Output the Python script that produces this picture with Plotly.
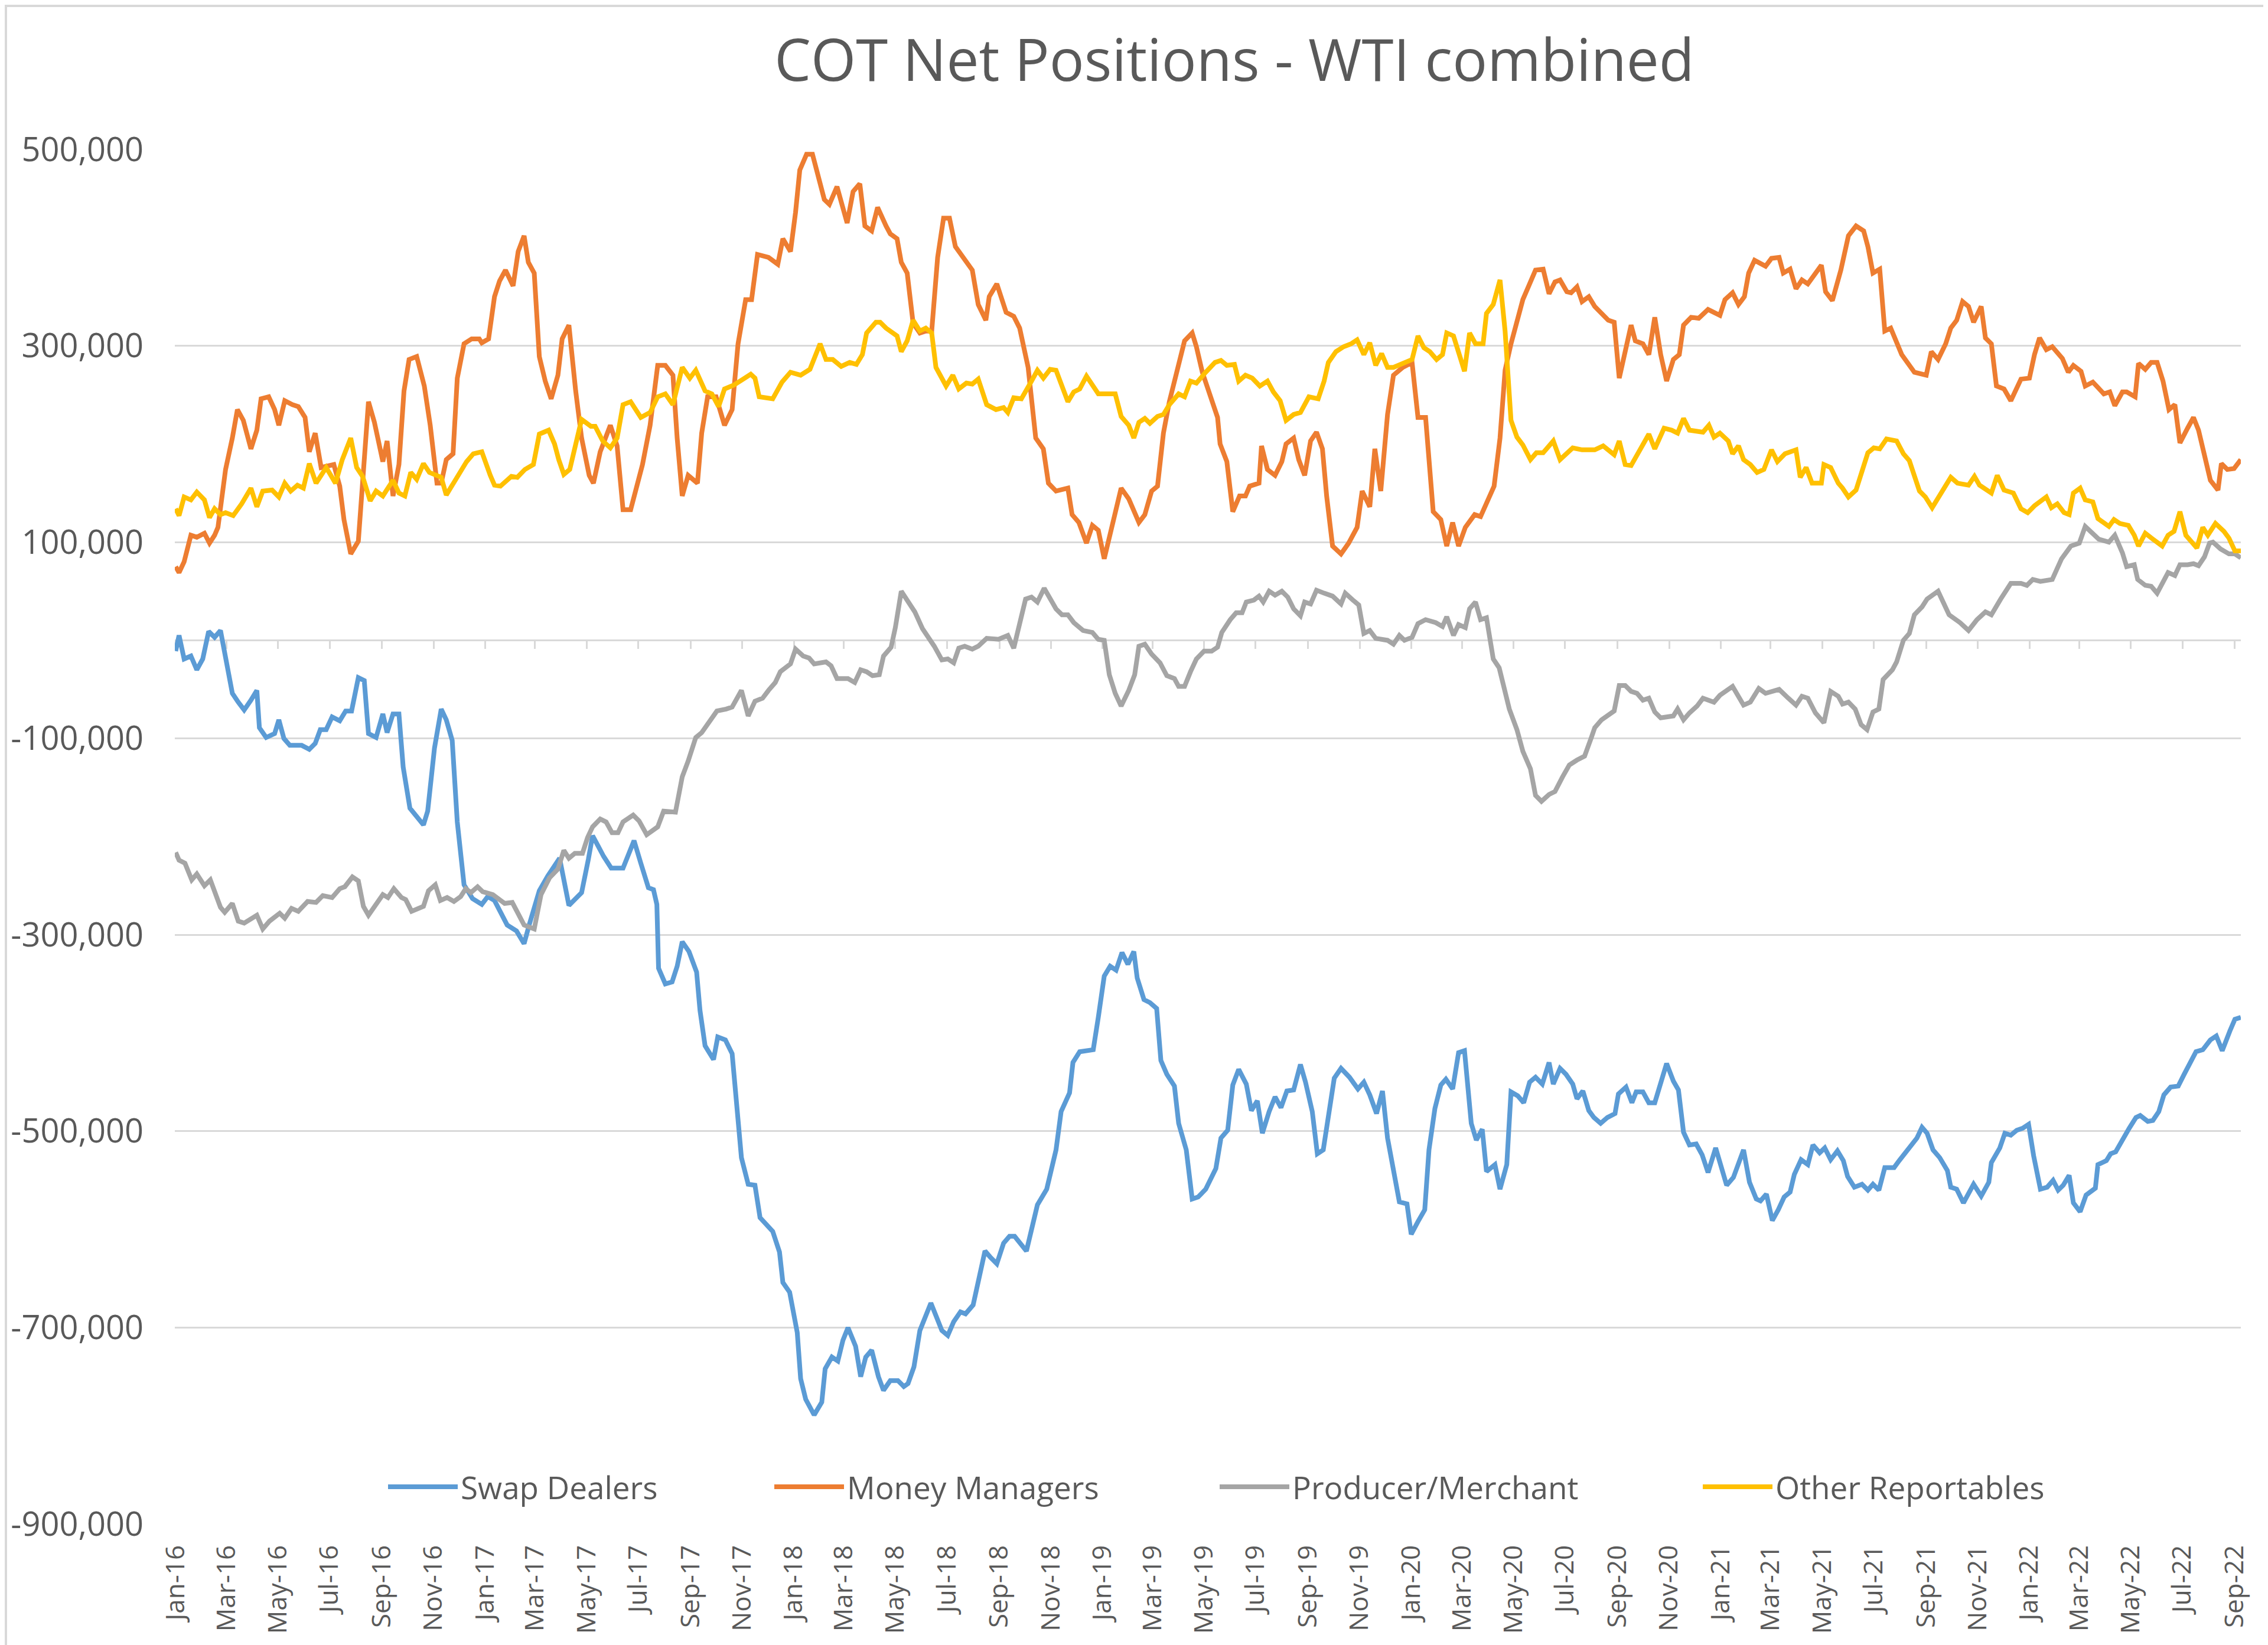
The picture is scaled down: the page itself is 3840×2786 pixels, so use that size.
import plotly.graph_objects as go

# ---- data (weekly COT net positions, contracts) ----
SWAP_DEALERS = [
    ("2016-01-01", -11000), ("2016-01-05", 5000), ("2016-01-11", -19000), ("2016-01-19", -16000),
    ("2016-01-26", -30000), ("2016-02-02", -19000), ("2016-02-09", 9000), ("2016-02-16", 3000),
    ("2016-02-23", 10000), ("2016-02-29", -19000), ("2016-03-08", -54000), ("2016-03-15", -63000),
    ("2016-03-22", -71000), ("2016-03-30", -61000), ("2016-04-06", -51000), ("2016-04-09", -89000),
    ("2016-04-17", -99000), ("2016-04-27", -95000), ("2016-05-02", -81000), ("2016-05-08", -100000),
    ("2016-05-15", -107000), ("2016-05-29", -107000), ("2016-06-07", -111000), ("2016-06-14", -105000),
    ("2016-06-20", -91000), ("2016-06-27", -91000), ("2016-07-04", -78000), ("2016-07-13", -82000),
    ("2016-07-20", -72000), ("2016-07-27", -72000), ("2016-08-04", -38000), ("2016-08-11", -41000),
    ("2016-08-16", -95000), ("2016-08-25", -99000), ("2016-09-02", -75000), ("2016-09-07", -94000),
    ("2016-09-14", -75000), ("2016-09-21", -75000), ("2016-09-26", -129000), ("2016-10-04", -171000),
    ("2016-10-12", -180000), ("2016-10-20", -188000), ("2016-10-25", -174000), ("2016-11-02", -110000),
    ("2016-11-10", -70000), ("2016-11-16", -81000), ("2016-11-23", -102000), ("2016-11-29", -185000),
    ("2016-12-07", -249000), ("2016-12-17", -263000), ("2016-12-28", -269000), ("2017-01-04", -261000),
    ("2017-01-12", -265000), ("2017-01-27", -290000), ("2017-02-07", -296000), ("2017-02-16", -309000),
    ("2017-02-22", -290000), ("2017-03-06", -255000), ("2017-03-16", -240000), ("2017-03-26", -228000),
    ("2017-03-30", -222000), ("2017-04-10", -270000), ("2017-04-25", -257000), ("2017-05-03", -223000),
    ("2017-05-08", -199000), ("2017-05-21", -220000), ("2017-05-30", -232000), ("2017-06-13", -232000),
    ("2017-06-18", -222000), ("2017-06-26", -204000), ("2017-07-04", -227000), ("2017-07-13", -252000),
    ("2017-07-19", -254000), ("2017-07-23", -269000), ("2017-07-25", -334000), ("2017-08-02", -350000),
    ("2017-08-10", -348000), ("2017-08-16", -332000), ("2017-08-22", -307000), ("2017-08-30", -317000),
    ("2017-09-08", -338000), ("2017-09-12", -377000), ("2017-09-18", -413000), ("2017-09-28", -427000),
    ("2017-10-03", -404000), ("2017-10-12", -407000), ("2017-10-20", -421000), ("2017-10-26", -473000),
    ("2017-10-31", -527000), ("2017-11-08", -554000), ("2017-11-16", -555000), ("2017-11-22", -588000),
    ("2017-11-29", -594000), ("2017-12-07", -602000), ("2017-12-15", -623000), ("2017-12-19", -654000),
    ("2017-12-27", -664000), ("2018-01-05", -705000), ("2018-01-09", -752000), ("2018-01-15", -773000),
    ("2018-01-25", -789000), ("2018-02-03", -776000), ("2018-02-07", -742000), ("2018-02-15", -730000),
    ("2018-02-22", -734000), ("2018-02-28", -713000), ("2018-03-06", -700000), ("2018-03-15", -719000),
    ("2018-03-21", -750000), ("2018-03-27", -730000), ("2018-04-03", -723000), ("2018-04-11", -750000),
    ("2018-04-17", -764000), ("2018-04-25", -754000), ("2018-05-04", -754000), ("2018-05-11", -760000),
    ("2018-05-16", -757000), ("2018-05-23", -740000), ("2018-05-30", -703000), ("2018-06-05", -691000),
    ("2018-06-12", -675000), ("2018-06-19", -690000), ("2018-06-25", -703000), ("2018-07-02", -708000),
    ("2018-07-09", -694000), ("2018-07-17", -684000), ("2018-07-23", -686000), ("2018-08-01", -677000),
    ("2018-08-08", -650000), ("2018-08-15", -622000), ("2018-08-21", -628000), ("2018-08-29", -635000),
    ("2018-09-06", -614000), ("2018-09-13", -607000), ("2018-09-19", -607000), ("2018-09-27", -615000),
    ("2018-10-03", -622000), ("2018-10-16", -575000), ("2018-10-27", -559000), ("2018-11-07", -519000),
    ("2018-11-13", -480000), ("2018-11-23", -461000), ("2018-11-27", -430000), ("2018-12-05", -419000),
    ("2018-12-21", -417000), ("2018-12-27", -384000), ("2019-01-03", -342000), ("2019-01-10", -332000),
    ("2019-01-17", -336000), ("2019-01-24", -318000), ("2019-01-31", -330000), ("2019-02-07", -317000),
    ("2019-02-11", -344000), ("2019-02-19", -366000), ("2019-02-26", -369000), ("2019-03-06", -375000),
    ("2019-03-11", -428000), ("2019-03-18", -442000), ("2019-03-27", -454000), ("2019-04-01", -492000),
    ("2019-04-10", -519000), ("2019-04-17", -569000), ("2019-04-24", -567000), ("2019-05-03", -559000),
    ("2019-05-15", -538000), ("2019-05-21", -507000), ("2019-05-29", -499000), ("2019-06-04", -453000),
    ("2019-06-11", -437000), ("2019-06-20", -452000), ("2019-06-26", -479000), ("2019-07-03", -469000),
    ("2019-07-09", -502000), ("2019-07-17", -480000), ("2019-07-24", -465000), ("2019-07-31", -476000),
    ("2019-08-07", -459000), ("2019-08-15", -458000), ("2019-08-23", -432000), ("2019-08-29", -450000),
    ("2019-09-06", -480000), ("2019-09-12", -523000), ("2019-09-19", -519000), ("2019-10-02", -446000),
    ("2019-10-10", -436000), ("2019-10-20", -445000), ("2019-10-30", -457000), ("2019-11-06", -450000),
    ("2019-11-13", -463000), ("2019-11-21", -482000), ("2019-11-28", -459000), ("2019-12-04", -507000),
    ("2019-12-13", -552000), ("2019-12-18", -572000), ("2019-12-27", -574000), ("2020-01-01", -605000),
    ("2020-01-09", -592000), ("2020-01-17", -580000), ("2020-01-22", -519000), ("2020-01-29", -477000),
    ("2020-02-05", -453000), ("2020-02-11", -447000), ("2020-02-19", -457000), ("2020-02-26", -420000),
    ("2020-03-04", -418000), ("2020-03-12", -492000), ("2020-03-18", -509000), ("2020-03-25", -498000),
    ("2020-03-30", -541000), ("2020-04-09", -534000), ("2020-04-15", -559000), ("2020-04-23", -534000),
    ("2020-04-28", -460000), ("2020-05-06", -464000), ("2020-05-13", -471000), ("2020-05-20", -450000),
    ("2020-05-27", -445000), ("2020-06-04", -452000), ("2020-06-12", -430000), ("2020-06-17", -452000),
    ("2020-06-25", -436000), ("2020-07-02", -442000), ("2020-07-10", -452000), ("2020-07-15", -467000),
    ("2020-07-22", -459000), ("2020-07-29", -479000), ("2020-08-04", -486000), ("2020-08-12", -492000),
    ("2020-08-20", -486000), ("2020-08-29", -482000), ("2020-09-02", -462000), ("2020-09-11", -455000),
    ("2020-09-18", -471000), ("2020-09-23", -460000), ("2020-10-01", -460000), ("2020-10-08", -471000),
    ("2020-10-15", -471000), ("2020-10-29", -431000), ("2020-11-06", -449000), ("2020-11-12", -458000),
    ("2020-11-18", -501000), ("2020-11-25", -514000), ("2020-12-03", -513000), ("2020-12-10", -524000),
    ("2020-12-17", -542000), ("2020-12-26", -517000), ("2021-01-08", -555000), ("2021-01-16", -547000),
    ("2021-01-28", -519000), ("2021-02-04", -552000), ("2021-02-12", -569000), ("2021-02-17", -571000),
    ("2021-02-24", -564000), ("2021-03-03", -591000), ("2021-03-10", -580000), ("2021-03-17", -567000),
    ("2021-03-24", -562000), ("2021-03-29", -544000), ("2021-04-06", -529000), ("2021-04-14", -534000),
    ("2021-04-20", -514000), ("2021-04-28", -522000), ("2021-05-04", -517000), ("2021-05-11", -529000),
    ("2021-05-19", -520000), ("2021-05-26", -530000), ("2021-05-31", -546000), ("2021-06-08", -557000),
    ("2021-06-17", -554000), ("2021-06-24", -560000), ("2021-06-30", -554000), ("2021-07-07", -560000),
    ("2021-07-14", -537000), ("2021-07-25", -537000), ("2021-07-31", -530000), ("2021-08-08", -521000),
    ("2021-08-14", -513000), ("2021-08-21", -507000), ("2021-08-27", -496000), ("2021-09-02", -502000),
    ("2021-09-09", -519000), ("2021-09-17", -527000), ("2021-09-26", -540000), ("2021-09-30", -557000),
    ("2021-10-07", -559000), ("2021-10-15", -573000), ("2021-10-27", -554000), ("2021-11-05", -566000),
    ("2021-11-14", -552000), ("2021-11-17", -532000), ("2021-11-27", -517000), ("2021-12-03", -502000),
    ("2021-12-10", -504000), ("2021-12-17", -499000), ("2021-12-24", -497000), ("2021-12-31", -493000),
    ("2022-01-06", -525000), ("2022-01-14", -559000), ("2022-01-22", -557000), ("2022-01-29", -550000),
    ("2022-02-04", -560000), ("2022-02-10", -555000), ("2022-02-17", -545000), ("2022-02-22", -573000),
    ("2022-03-02", -582000), ("2022-03-09", -565000), ("2022-03-20", -558000), ("2022-03-23", -534000),
    ("2022-04-02", -530000), ("2022-04-07", -523000), ("2022-04-13", -521000), ("2022-04-21", -508000),
    ("2022-04-29", -497000), ("2022-05-07", -486000), ("2022-05-12", -484000), ("2022-05-21", -490000),
    ("2022-05-27", -489000), ("2022-06-03", -480000), ("2022-06-09", -463000), ("2022-06-17", -455000),
    ("2022-06-26", -454000), ("2022-07-03", -442000), ("2022-07-09", -432000), ("2022-07-17", -419000),
    ("2022-07-25", -417000), ("2022-08-03", -407000), ("2022-08-10", -403000), ("2022-08-17", -418000),
    ("2022-08-26", -398000), ("2022-09-01", -386000), ("2022-09-08", -384000),
]

MONEY_MANAGERS = [
    ("2016-01-01", 75000), ("2016-01-05", 69000), ("2016-01-11", 80000), ("2016-01-19", 107000),
    ("2016-01-26", 105000), ("2016-02-04", 109000), ("2016-02-10", 99000), ("2016-02-16", 107000),
    ("2016-02-20", 115000), ("2016-02-29", 174000), ("2016-03-08", 206000), ("2016-03-14", 235000),
    ("2016-03-21", 224000), ("2016-03-30", 195000), ("2016-04-06", 214000), ("2016-04-11", 246000),
    ("2016-04-20", 248000), ("2016-04-27", 235000), ("2016-05-02", 219000), ("2016-05-09", 244000),
    ("2016-05-18", 240000), ("2016-05-25", 238000), ("2016-06-02", 227000), ("2016-06-07", 192000),
    ("2016-06-14", 211000), ("2016-06-21", 176000), ("2016-07-06", 179000), ("2016-07-13", 157000),
    ("2016-07-18", 123000), ("2016-07-26", 88000), ("2016-08-04", 101000), ("2016-08-09", 163000),
    ("2016-08-16", 243000), ("2016-08-23", 222000), ("2016-09-02", 182000), ("2016-09-07", 203000),
    ("2016-09-14", 147000), ("2016-09-21", 179000), ("2016-09-27", 254000), ("2016-10-03", 286000),
    ("2016-10-12", 289000), ("2016-10-21", 259000), ("2016-10-28", 219000), ("2016-11-05", 160000),
    ("2016-11-10", 160000), ("2016-11-16", 184000), ("2016-11-24", 190000), ("2016-11-29", 267000),
    ("2016-12-07", 302000), ("2016-12-16", 307000), ("2016-12-25", 307000), ("2016-12-28", 303000),
    ("2017-01-05", 307000), ("2017-01-12", 350000), ("2017-01-18", 366000), ("2017-01-25", 377000),
    ("2017-02-03", 361000), ("2017-02-09", 396000), ("2017-02-16", 412000), ("2017-02-21", 385000),
    ("2017-02-28", 374000), ("2017-03-06", 289000), ("2017-03-13", 264000), ("2017-03-20", 246000),
    ("2017-03-28", 270000), ("2017-04-02", 307000), ("2017-04-10", 321000), ("2017-04-18", 254000),
    ("2017-04-25", 206000), ("2017-05-04", 168000), ("2017-05-09", 160000), ("2017-05-17", 192000),
    ("2017-05-29", 219000), ("2017-06-06", 198000), ("2017-06-13", 133000), ("2017-06-22", 133000),
    ("2017-07-06", 179000), ("2017-07-15", 219000), ("2017-07-24", 280000), ("2017-08-02", 280000),
    ("2017-08-11", 270000), ("2017-08-16", 206000), ("2017-08-22", 147000), ("2017-08-29", 168000),
    ("2017-09-09", 160000), ("2017-09-14", 211000), ("2017-09-21", 248000), ("2017-10-01", 248000),
    ("2017-10-11", 219000), ("2017-10-20", 235000), ("2017-10-27", 302000), ("2017-11-05", 347000),
    ("2017-11-12", 347000), ("2017-11-19", 393000), ("2017-12-02", 390000), ("2017-12-13", 383000),
    ("2017-12-19", 409000), ("2017-12-28", 396000), ("2018-01-03", 436000), ("2018-01-08", 479000),
    ("2018-01-16", 495000), ("2018-01-23", 495000), ("2018-01-30", 473000), ("2018-02-06", 449000),
    ("2018-02-12", 444000), ("2018-02-21", 462000), ("2018-03-05", 425000), ("2018-03-12", 457000),
    ("2018-03-20", 465000), ("2018-03-26", 422000), ("2018-04-03", 417000), ("2018-04-10", 441000),
    ("2018-04-20", 422000), ("2018-04-25", 414000), ("2018-05-03", 409000), ("2018-05-08", 385000),
    ("2018-05-15", 374000), ("2018-05-22", 323000), ("2018-05-30", 313000), ("2018-06-06", 315000),
    ("2018-06-13", 315000), ("2018-06-20", 390000), ("2018-06-27", 430000), ("2018-07-04", 430000),
    ("2018-07-11", 401000), ("2018-07-20", 390000), ("2018-07-31", 377000), ("2018-08-07", 342000),
    ("2018-08-16", 326000), ("2018-08-20", 350000), ("2018-08-29", 363000), ("2018-09-09", 334000),
    ("2018-09-18", 330000), ("2018-09-25", 318000), ("2018-10-05", 278000), ("2018-10-14", 206000),
    ("2018-10-23", 195000), ("2018-10-29", 160000), ("2018-11-07", 152000), ("2018-11-21", 155000),
    ("2018-11-26", 128000), ("2018-12-04", 120000), ("2018-12-13", 99000), ("2018-12-20", 117000),
    ("2018-12-27", 112000), ("2019-01-03", 83000), ("2019-01-14", 120000), ("2019-01-23", 155000),
    ("2019-02-01", 144000), ("2019-02-13", 120000), ("2019-02-20", 128000), ("2019-02-28", 152000),
    ("2019-03-07", 157000), ("2019-03-14", 211000), ("2019-03-21", 243000), ("2019-03-31", 280000),
    ("2019-04-08", 305000), ("2019-04-17", 313000), ("2019-04-22", 299000), ("2019-04-29", 273000),
    ("2019-05-08", 248000), ("2019-05-17", 227000), ("2019-05-20", 200000), ("2019-05-28", 182000),
    ("2019-06-04", 131000), ("2019-06-12", 147000), ("2019-06-19", 147000), ("2019-06-24", 157000),
    ("2019-07-05", 160000), ("2019-07-08", 198000), ("2019-07-15", 174000), ("2019-07-24", 168000),
    ("2019-08-01", 182000), ("2019-08-06", 200000), ("2019-08-15", 206000), ("2019-08-21", 184000),
    ("2019-08-28", 168000), ("2019-09-04", 203000), ("2019-09-11", 212000), ("2019-09-18", 195000),
    ("2019-09-23", 147000), ("2019-09-30", 96000), ("2019-10-10", 88000), ("2019-10-19", 99000),
    ("2019-10-29", 115000), ("2019-11-04", 152000), ("2019-11-13", 136000), ("2019-11-19", 195000),
    ("2019-11-26", 152000), ("2019-12-04", 230000), ("2019-12-11", 270000), ("2019-12-22", 278000),
    ("2020-01-02", 283000), ("2020-01-09", 227000), ("2020-01-18", 227000), ("2020-01-27", 131000),
    ("2020-02-05", 123000), ("2020-02-12", 96000), ("2020-02-19", 120000), ("2020-02-26", 96000),
    ("2020-03-05", 115000), ("2020-03-16", 128000), ("2020-03-23", 126000), ("2020-04-01", 145000),
    ("2020-04-08", 157000), ("2020-04-15", 206000), ("2020-04-21", 275000), ("2020-04-28", 302000),
    ("2020-05-12", 347000), ("2020-05-19", 361000), ("2020-05-27", 377000), ("2020-06-05", 378000),
    ("2020-06-12", 353000), ("2020-06-19", 365000), ("2020-06-25", 367000), ("2020-07-03", 355000),
    ("2020-07-08", 354000), ("2020-07-15", 360000), ("2020-07-21", 345000), ("2020-07-29", 350000),
    ("2020-08-05", 340000), ("2020-08-21", 326000), ("2020-08-28", 324000), ("2020-09-03", 267000),
    ("2020-09-17", 321000), ("2020-09-22", 305000), ("2020-10-01", 302000), ("2020-10-08", 291000),
    ("2020-10-15", 329000), ("2020-10-22", 291000), ("2020-10-29", 264000), ("2020-11-06", 286000),
    ("2020-11-13", 291000), ("2020-11-18", 321000), ("2020-11-27", 329000), ("2020-12-06", 328000),
    ("2020-12-17", 337000), ("2020-12-31", 331000), ("2021-01-06", 347000), ("2021-01-15", 354000),
    ("2021-01-22", 342000), ("2021-01-29", 350000), ("2021-02-03", 374000), ("2021-02-10", 387000),
    ("2021-02-23", 381000), ("2021-03-02", 389000), ("2021-03-11", 390000), ("2021-03-16", 374000),
    ("2021-03-24", 378000), ("2021-03-31", 358000), ("2021-04-07", 367000), ("2021-04-14", 363000),
    ("2021-04-23", 374000), ("2021-04-30", 382000), ("2021-05-05", 355000), ("2021-05-13", 346000),
    ("2021-05-23", 377000), ("2021-06-01", 412000), ("2021-06-10", 422000), ("2021-06-19", 417000),
    ("2021-06-24", 401000), ("2021-06-30", 374000), ("2021-07-08", 378000), ("2021-07-14", 315000),
    ("2021-07-21", 318000), ("2021-07-28", 302000), ("2021-08-03", 291000), ("2021-08-18", 273000),
    ("2021-09-01", 270000), ("2021-09-07", 294000), ("2021-09-15", 286000), ("2021-09-24", 302000),
    ("2021-09-30", 318000), ("2021-10-07", 326000), ("2021-10-14", 345000), ("2021-10-21", 340000),
    ("2021-10-27", 324000), ("2021-11-05", 340000), ("2021-11-10", 308000), ("2021-11-17", 302000),
    ("2021-11-23", 259000), ("2021-12-02", 256000), ("2021-12-10", 244000), ("2021-12-22", 266000),
    ("2022-01-01", 267000), ("2022-01-07", 291000), ("2022-01-13", 308000), ("2022-01-21", 296000),
    ("2022-01-28", 299000), ("2022-02-09", 287000), ("2022-02-16", 273000), ("2022-02-22", 280000),
    ("2022-03-03", 274000), ("2022-03-08", 259000), ("2022-03-17", 263000), ("2022-03-30", 251000),
    ("2022-04-06", 253000), ("2022-04-12", 239000), ("2022-04-21", 253000), ("2022-04-26", 253000),
    ("2022-05-06", 248000), ("2022-05-10", 282000), ("2022-05-18", 276000), ("2022-05-25", 283000),
    ("2022-06-01", 283000), ("2022-06-08", 264000), ("2022-06-15", 235000), ("2022-06-22", 240000),
    ("2022-06-28", 201000), ("2022-07-07", 216000), ("2022-07-14", 227000), ("2022-07-20", 214000),
    ("2022-07-27", 190000), ("2022-08-03", 163000), ("2022-08-12", 153000), ("2022-08-16", 180000),
    ("2022-08-23", 174000), ("2022-08-31", 175000), ("2022-09-08", 184000),
]

PRODUCER_MERCHANT = [
    ("2016-01-01", -216000), ("2016-01-05", -224000), ("2016-01-12", -227000), ("2016-01-20", -244000),
    ("2016-01-26", -238000), ("2016-02-04", -250000), ("2016-02-11", -244000), ("2016-02-23", -272000),
    ("2016-02-28", -277000), ("2016-03-08", -268000), ("2016-03-15", -286000), ("2016-03-22", -288000),
    ("2016-04-06", -280000), ("2016-04-13", -294000), ("2016-04-21", -286000), ("2016-05-03", -278000),
    ("2016-05-09", -283000), ("2016-05-17", -273000), ("2016-05-25", -276000), ("2016-06-05", -266000),
    ("2016-06-15", -267000), ("2016-06-23", -260000), ("2016-07-04", -262000), ("2016-07-13", -253000),
    ("2016-07-19", -251000), ("2016-07-28", -241000), ("2016-08-04", -245000), ("2016-08-10", -271000),
    ("2016-08-16", -280000), ("2016-09-02", -259000), ("2016-09-08", -262000), ("2016-09-15", -253000),
    ("2016-09-24", -262000), ("2016-09-29", -264000), ("2016-10-06", -276000), ("2016-10-20", -271000),
    ("2016-10-26", -255000), ("2016-11-03", -249000), ("2016-11-09", -265000), ("2016-11-17", -262000),
    ("2016-11-25", -266000), ("2016-12-03", -261000), ("2016-12-09", -253000), ("2016-12-15", -257000),
    ("2016-12-23", -251000), ("2016-12-29", -256000), ("2017-01-10", -259000), ("2017-01-24", -268000),
    ("2017-02-02", -267000), ("2017-02-16", -290000), ("2017-02-28", -294000), ("2017-03-08", -259000),
    ("2017-03-18", -242000), ("2017-03-28", -233000), ("2017-04-04", -214000), ("2017-04-10", -222000),
    ("2017-04-17", -217000), ("2017-04-26", -217000), ("2017-05-02", -201000), ("2017-05-08", -190000),
    ("2017-05-17", -182000), ("2017-05-24", -185000), ("2017-05-31", -196000), ("2017-06-07", -196000),
    ("2017-06-13", -185000), ("2017-06-25", -178000), ("2017-07-02", -184000), ("2017-07-11", -198000),
    ("2017-07-24", -190000), ("2017-07-31", -174000), ("2017-08-14", -175000), ("2017-08-22", -139000),
    ("2017-08-29", -123000), ("2017-09-07", -99000), ("2017-09-14", -94000), ("2017-09-23", -83000),
    ("2017-10-02", -72000), ("2017-10-13", -70000), ("2017-10-20", -68000), ("2017-10-31", -51000),
    ("2017-11-08", -77000), ("2017-11-16", -62000), ("2017-11-25", -59000), ("2017-12-02", -51000),
    ("2017-12-10", -43000), ("2017-12-16", -32000), ("2017-12-28", -24000), ("2018-01-03", -9000),
    ("2018-01-12", -16000), ("2018-01-19", -18000), ("2018-01-25", -24000), ("2018-02-08", -22000),
    ("2018-02-14", -26000), ("2018-02-21", -39000), ("2018-03-06", -39000), ("2018-03-14", -43000),
    ("2018-03-21", -30000), ("2018-03-28", -32000), ("2018-04-04", -36000), ("2018-04-12", -35000),
    ("2018-04-17", -16000), ("2018-04-26", -7000), ("2018-05-01", 13000), ("2018-05-08", 50000),
    ("2018-05-15", 41000), ("2018-05-24", 29000), ("2018-06-02", 12000), ("2018-06-16", -6000),
    ("2018-06-25", -20000), ("2018-07-02", -19000), ("2018-07-09", -23000), ("2018-07-15", -8000),
    ("2018-07-22", -6000), ("2018-07-31", -9000), ("2018-08-07", -6000), ("2018-08-17", 2000),
    ("2018-08-31", 1000), ("2018-09-11", 5000), ("2018-09-18", -8000), ("2018-09-25", 18000),
    ("2018-10-02", 42000), ("2018-10-09", 44000), ("2018-10-16", 39000), ("2018-10-24", 53000),
    ("2018-10-31", 43000), ("2018-11-07", 32000), ("2018-11-14", 26000), ("2018-11-21", 26000),
    ("2018-11-28", 18000), ("2018-12-09", 10000), ("2018-12-20", 8000), ("2018-12-27", 1000),
    ("2019-01-03", 0), ("2019-01-09", -35000), ("2019-01-16", -54000), ("2019-01-23", -67000),
    ("2019-02-01", -51000), ("2019-02-08", -35000), ("2019-02-13", -6000), ("2019-02-20", -4000),
    ("2019-02-28", -14000), ("2019-03-10", -23000), ("2019-03-18", -36000), ("2019-03-27", -39000),
    ("2019-04-01", -47000), ("2019-04-08", -47000), ("2019-04-15", -32000), ("2019-04-22", -19000),
    ("2019-05-01", -11000), ("2019-05-10", -11000), ("2019-05-17", -7000), ("2019-05-22", 8000),
    ("2019-06-01", 21000), ("2019-06-08", 28000), ("2019-06-15", 28000), ("2019-06-20", 39000),
    ("2019-06-29", 41000), ("2019-07-05", 45000), ("2019-07-10", 39000), ("2019-07-17", 50000),
    ("2019-07-24", 46000), ("2019-08-01", 50000), ("2019-08-08", 44000), ("2019-08-15", 32000),
    ("2019-08-23", 25000), ("2019-08-28", 39000), ("2019-09-04", 37000), ("2019-09-11", 51000),
    ("2019-09-20", 48000), ("2019-09-30", 45000), ("2019-10-10", 37000), ("2019-10-15", 48000),
    ("2019-10-24", 41000), ("2019-10-31", 36000), ("2019-11-06", 7000), ("2019-11-13", 10000),
    ("2019-11-20", 2000), ("2019-12-04", 0), ("2019-12-11", -4000), ("2019-12-18", 5000),
    ("2019-12-24", 0), ("2020-01-02", 3000), ("2020-01-09", 17000), ("2020-01-18", 21000),
    ("2020-01-30", 18000), ("2020-02-07", 14000), ("2020-02-12", 24000), ("2020-02-20", 5000),
    ("2020-02-26", 16000), ("2020-03-05", 13000), ("2020-03-10", 32000), ("2020-03-17", 39000),
    ("2020-03-23", 21000), ("2020-03-30", 23000), ("2020-04-07", -19000), ("2020-04-14", -28000),
    ("2020-04-26", -70000), ("2020-05-05", -91000), ("2020-05-12", -113000), ("2020-05-21", -131000),
    ("2020-05-27", -158000), ("2020-06-03", -164000), ("2020-06-12", -157000), ("2020-06-19", -154000),
    ("2020-06-28", -139000), ("2020-07-06", -127000), ("2020-07-15", -122000), ("2020-07-24", -118000),
    ("2020-08-01", -99000), ("2020-08-05", -89000), ("2020-08-13", -81000), ("2020-08-28", -72000),
    ("2020-09-03", -46000), ("2020-09-10", -46000), ("2020-09-17", -52000), ("2020-09-24", -54000),
    ("2020-10-01", -61000), ("2020-10-08", -59000), ("2020-10-15", -73000), ("2020-10-22", -79000),
    ("2020-11-06", -77000), ("2020-11-11", -70000), ("2020-11-18", -81000), ("2020-11-25", -74000),
    ("2020-12-04", -67000), ("2020-12-11", -59000), ("2020-12-24", -63000), ("2020-12-31", -56000),
    ("2021-01-15", -47000), ("2021-01-28", -66000), ("2021-02-05", -63000), ("2021-02-15", -49000),
    ("2021-02-23", -54000), ("2021-03-11", -50000), ("2021-03-22", -59000), ("2021-03-31", -66000),
    ("2021-04-07", -57000), ("2021-04-14", -59000), ("2021-04-23", -74000), ("2021-05-03", -84000),
    ("2021-05-11", -52000), ("2021-05-20", -57000), ("2021-05-25", -65000), ("2021-06-01", -63000),
    ("2021-06-09", -70000), ("2021-06-16", -86000), ("2021-06-23", -91000), ("2021-06-30", -73000),
    ("2021-07-07", -70000), ("2021-07-12", -40000), ("2021-07-23", -30000), ("2021-07-28", -22000),
    ("2021-08-05", 0), ("2021-08-12", 7000), ("2021-08-18", 26000), ("2021-08-27", 34000),
    ("2021-09-02", 42000), ("2021-09-08", 46000), ("2021-09-15", 50000), ("2021-09-28", 26000),
    ("2021-10-11", 18000), ("2021-10-21", 10000), ("2021-10-31", 21000), ("2021-11-10", 29000),
    ("2021-11-17", 26000), ("2021-11-28", 42000), ("2021-12-10", 58000), ("2021-12-22", 58000),
    ("2021-12-29", 56000), ("2022-01-05", 62000), ("2022-01-14", 60000), ("2022-01-28", 62000),
    ("2022-02-08", 83000), ("2022-02-19", 96000), ("2022-03-01", 99000), ("2022-03-08", 116000),
    ("2022-03-19", 107000), ("2022-03-24", 103000), ("2022-04-05", 100000), ("2022-04-12", 107000),
    ("2022-04-21", 89000), ("2022-04-26", 75000), ("2022-05-05", 77000), ("2022-05-09", 62000),
    ("2022-05-18", 56000), ("2022-05-25", 55000), ("2022-06-01", 48000), ("2022-06-14", 69000),
    ("2022-06-22", 66000), ("2022-06-28", 77000), ("2022-07-07", 77000), ("2022-07-14", 78000),
    ("2022-07-20", 76000), ("2022-07-27", 85000), ("2022-08-02", 99000), ("2022-08-06", 100000),
    ("2022-08-15", 93000), ("2022-08-25", 88000), ("2022-09-01", 88000), ("2022-09-08", 84000),
]

OTHER_REPORTABLES = [
    ("2016-01-01", 134000), ("2016-01-05", 127000), ("2016-01-11", 146000), ("2016-01-19", 143000),
    ("2016-01-26", 151000), ("2016-02-04", 143000), ("2016-02-10", 125000), ("2016-02-16", 134000),
    ("2016-02-23", 128000), ("2016-02-29", 130000), ("2016-03-09", 127000), ("2016-03-19", 139000),
    ("2016-03-30", 155000), ("2016-04-06", 136000), ("2016-04-13", 152000), ("2016-04-24", 153000),
    ("2016-05-02", 146000), ("2016-05-09", 160000), ("2016-05-16", 152000), ("2016-05-24", 158000),
    ("2016-05-31", 155000), ("2016-06-07", 180000), ("2016-06-15", 160000), ("2016-06-27", 176000),
    ("2016-07-08", 160000), ("2016-07-16", 184000), ("2016-07-26", 206000), ("2016-08-02", 176000),
    ("2016-08-09", 167000), ("2016-08-18", 142000), ("2016-08-25", 152000), ("2016-09-02", 147000),
    ("2016-09-14", 163000), ("2016-09-21", 150000), ("2016-09-28", 147000), ("2016-10-05", 171000),
    ("2016-10-12", 164000), ("2016-10-20", 180000), ("2016-10-27", 171000), ("2016-11-10", 166000),
    ("2016-11-16", 148000), ("2016-11-24", 160000), ("2016-12-10", 182000), ("2016-12-18", 190000),
    ("2016-12-28", 192000), ("2017-01-07", 168000), ("2017-01-12", 158000), ("2017-01-19", 157000),
    ("2017-02-01", 167000), ("2017-02-08", 166000), ("2017-02-17", 174000), ("2017-02-27", 179000),
    ("2017-03-06", 210000), ("2017-03-17", 214000), ("2017-03-24", 200000), ("2017-03-29", 184000),
    ("2017-04-04", 169000), ("2017-04-11", 174000), ("2017-04-18", 200000), ("2017-04-25", 225000),
    ("2017-05-06", 218000), ("2017-05-11", 218000), ("2017-05-20", 203000), ("2017-05-29", 196000),
    ("2017-06-06", 206000), ("2017-06-13", 240000), ("2017-06-22", 243000), ("2017-07-04", 227000),
    ("2017-07-15", 232000), ("2017-07-24", 248000), ("2017-08-02", 251000), ("2017-08-11", 240000),
    ("2017-08-22", 278000), ("2017-08-31", 267000), ("2017-09-07", 275000), ("2017-09-18", 254000),
    ("2017-09-26", 251000), ("2017-10-04", 238000), ("2017-10-11", 256000), ("2017-10-22", 260000),
    ("2017-11-02", 266000), ("2017-11-11", 271000), ("2017-11-16", 267000), ("2017-11-21", 248000),
    ("2017-12-07", 246000), ("2017-12-18", 263000), ("2017-12-28", 273000), ("2018-01-09", 270000),
    ("2018-01-20", 276000), ("2018-02-01", 302000), ("2018-02-08", 286000), ("2018-02-16", 286000),
    ("2018-02-26", 279000), ("2018-03-08", 283000), ("2018-03-16", 281000), ("2018-03-23", 291000),
    ("2018-03-28", 313000), ("2018-04-08", 324000), ("2018-04-13", 324000), ("2018-04-20", 318000),
    ("2018-05-03", 310000), ("2018-05-08", 294000), ("2018-05-15", 305000), ("2018-05-22", 326000),
    ("2018-05-30", 315000), ("2018-06-06", 318000), ("2018-06-13", 313000), ("2018-06-18", 278000),
    ("2018-06-30", 259000), ("2018-07-08", 270000), ("2018-07-15", 256000), ("2018-07-24", 262000),
    ("2018-07-31", 261000), ("2018-08-07", 266000), ("2018-08-17", 240000), ("2018-08-28", 235000),
    ("2018-09-06", 237000), ("2018-09-11", 232000), ("2018-09-18", 247000), ("2018-09-27", 246000),
    ("2018-10-09", 264000), ("2018-10-16", 275000), ("2018-10-23", 267000), ("2018-10-31", 276000),
    ("2018-11-07", 275000), ("2018-11-21", 243000), ("2018-11-28", 253000), ("2018-12-05", 256000),
    ("2018-12-13", 269000), ("2018-12-27", 251000), ("2019-01-16", 251000), ("2019-01-23", 228000),
    ("2019-02-01", 219000), ("2019-02-07", 206000), ("2019-02-13", 222000), ("2019-02-20", 226000),
    ("2019-02-26", 221000), ("2019-03-07", 228000), ("2019-03-14", 230000), ("2019-03-21", 240000),
    ("2019-04-01", 251000), ("2019-04-08", 248000), ("2019-04-15", 264000), ("2019-04-22", 262000),
    ("2019-05-03", 273000), ("2019-05-14", 283000), ("2019-05-21", 285000), ("2019-05-28", 280000),
    ("2019-06-06", 281000), ("2019-06-11", 264000), ("2019-06-19", 270000), ("2019-06-27", 267000),
    ("2019-07-06", 259000), ("2019-07-15", 264000), ("2019-07-22", 253000), ("2019-07-30", 244000),
    ("2019-08-06", 224000), ("2019-08-15", 230000), ("2019-08-23", 232000), ("2019-09-02", 248000),
    ("2019-09-13", 246000), ("2019-09-20", 264000), ("2019-09-25", 283000), ("2019-10-04", 294000),
    ("2019-10-13", 299000), ("2019-10-22", 302000), ("2019-10-29", 306000), ("2019-11-06", 291000),
    ("2019-11-13", 303000), ("2019-11-20", 280000), ("2019-11-27", 292000), ("2019-12-04", 278000),
    ("2019-12-11", 278000), ("2019-12-22", 282000), ("2020-01-02", 286000), ("2020-01-09", 310000),
    ("2020-01-16", 298000), ("2020-01-23", 294000), ("2020-01-31", 286000), ("2020-02-07", 291000),
    ("2020-02-12", 313000), ("2020-02-20", 310000), ("2020-02-27", 291000), ("2020-03-04", 274000),
    ("2020-03-10", 313000), ("2020-03-17", 302000), ("2020-03-26", 302000), ("2020-03-30", 333000),
    ("2020-04-07", 342000), ("2020-04-15", 367000), ("2020-04-21", 315000), ("2020-04-28", 224000),
    ("2020-05-05", 207000), ("2020-05-12", 199000), ("2020-05-21", 184000), ("2020-05-28", 191000),
    ("2020-06-05", 191000), ("2020-06-17", 203000), ("2020-06-25", 184000), ("2020-07-03", 190000),
    ("2020-07-10", 196000), ("2020-07-21", 194000), ("2020-08-05", 194000), ("2020-08-15", 198000),
    ("2020-08-28", 189000), ("2020-09-03", 203000), ("2020-09-10", 179000), ("2020-09-17", 178000),
    ("2020-09-26", 192000), ("2020-10-08", 210000), ("2020-10-15", 195000), ("2020-10-26", 216000),
    ("2020-11-04", 214000), ("2020-11-11", 211000), ("2020-11-18", 226000), ("2020-11-25", 214000),
    ("2020-12-11", 212000), ("2020-12-18", 219000), ("2020-12-24", 207000), ("2020-12-31", 211000),
    ("2021-01-10", 203000), ("2021-01-15", 190000), ("2021-01-22", 198000), ("2021-01-28", 184000),
    ("2021-02-05", 179000), ("2021-02-13", 171000), ("2021-02-21", 174000), ("2021-03-02", 194000),
    ("2021-03-09", 182000), ("2021-03-18", 190000), ("2021-03-31", 194000), ("2021-04-05", 166000),
    ("2021-04-12", 176000), ("2021-04-19", 160000), ("2021-04-30", 160000), ("2021-05-03", 179000),
    ("2021-05-11", 176000), ("2021-05-20", 160000), ("2021-05-25", 155000), ("2021-06-01", 146000),
    ("2021-06-10", 153000), ("2021-06-17", 171000), ("2021-06-24", 191000), ("2021-07-01", 196000),
    ("2021-07-08", 195000), ("2021-07-16", 205000), ("2021-07-28", 203000), ("2021-08-05", 190000),
    ("2021-08-12", 183000), ("2021-08-24", 152000), ("2021-08-31", 146000), ("2021-09-08", 135000),
    ("2021-09-18", 150000), ("2021-09-30", 166000), ("2021-10-08", 160000), ("2021-10-21", 158000),
    ("2021-10-28", 167000), ("2021-11-03", 158000), ("2021-11-17", 150000), ("2021-11-24", 168000),
    ("2021-12-02", 153000), ("2021-12-13", 150000), ("2021-12-22", 134000), ("2021-12-30", 130000),
    ("2022-01-07", 137000), ("2022-01-21", 146000), ("2022-01-27", 135000), ("2022-02-03", 139000),
    ("2022-02-11", 130000), ("2022-02-17", 128000), ("2022-02-22", 150000), ("2022-03-02", 155000),
    ("2022-03-08", 143000), ("2022-03-17", 141000), ("2022-03-23", 124000), ("2022-04-05", 116000),
    ("2022-04-11", 123000), ("2022-04-18", 119000), ("2022-04-28", 117000), ("2022-05-05", 107000),
    ("2022-05-10", 96000), ("2022-05-18", 109000), ("2022-05-27", 103000), ("2022-06-07", 96000),
    ("2022-06-14", 107000), ("2022-06-21", 111000), ("2022-06-28", 131000), ("2022-07-05", 107000),
    ("2022-07-14", 98000), ("2022-07-18", 94000), ("2022-07-25", 115000), ("2022-07-31", 107000),
    ("2022-08-09", 119000), ("2022-08-19", 111000), ("2022-08-25", 104000), ("2022-09-01", 91000),
    ("2022-09-08", 91000),
]

SERIES_NAMES = ["Swap Dealers", "Money Managers", "Producer/Merchant", "Other Reportables"]
SERIES_COLORS = ["#5B9BD5", "#ED7D31", "#A5A5A5", "#FFC000"]
Y_TICKS = [500000, 300000, 100000, -100000, -300000, -500000, -700000, -900000]
Y_TICK_LABELS = ["500,000", "300,000", "100,000", "-100,000", "-300,000", "-500,000", "-700,000", "-900,000"]
Y_RANGE = [-900000, 500000]
X_RANGE = ["2015-12-31", "2022-09-08"]
TITLE = "COT Net Positions - WTI combined"

TEXT_COLOR = "#595959"
GRID_COLOR = "#D9D9D9"
FONT = "Open Sans"

# ---- figure ----
W, H = 3840, 2786
ML, MR, MT, MB = 288, 54, 245, 213
PW, PH = W - ML - MR, H - MT - MB

fig = go.Figure()
all_series = [SWAP_DEALERS, MONEY_MANAGERS, PRODUCER_MERCHANT, OTHER_REPORTABLES]
legend_ids = ["legend", "legend2", "legend3", "legend4"]
for data, name, color, lg in zip(all_series, SERIES_NAMES, SERIES_COLORS, legend_ids):
    dates, values = zip(*data)
    fig.add_trace(go.Scatter(
        x=list(dates), y=list(values), mode="lines", name=name, showlegend=True,
        line=dict(color=color, width=8), legend=lg, hoverinfo="x+y+name",
    ))

# empty helper trace so the zero-crossing axis (ticks at y=0) is rendered
fig.add_trace(go.Scatter(x=[], y=[], xaxis="x2", showlegend=False, hoverinfo="skip"))

legend_px = [644, 1298, 2052, 2870]   # left edge of each legend entry (px)
legend_y = (2573 - 2510) / PH
legends = {}
for lg, px in zip(legend_ids, legend_px):
    legends[lg] = dict(
        orientation="h", yanchor="middle", y=legend_y,
        xanchor="left", x=(px - ML) / PW, bgcolor="rgba(0,0,0,0)", itemwidth=118,
        font=dict(family=FONT, size=53, color=TEXT_COLOR), visible=True,
    )

zero_pos = (0 - Y_RANGE[0]) / (Y_RANGE[1] - Y_RANGE[0])

fig.update_layout(
    width=W, height=H, showlegend=True,
    margin=dict(l=ML, r=MR, t=MT, b=MB, autoexpand=False),
    paper_bgcolor="white", plot_bgcolor="white",
    title=dict(text=TITLE, x=2082 / W, xanchor="center", y=1 - 95 / H, yanchor="middle",
               font=dict(family=FONT, size=98, color=TEXT_COLOR)),
    font=dict(family=FONT, color=TEXT_COLOR),
    xaxis=dict(
        type="date", range=X_RANGE, tick0="2016-01-01", dtick="M2", tickformat="%b-%y",
        tickangle=-90, showgrid=False, showline=False, zeroline=False, ticks="",
        ticklabelstandoff=26, automargin=False,
        tickfont=dict(family=FONT, size=44, color=TEXT_COLOR),
    ),
    xaxis2=dict(
        type="date", range=X_RANGE, tick0="2016-01-01", dtick="M2", overlaying="x",
        anchor="free", position=zero_pos, side="bottom", showgrid=False, zeroline=False,
        showline=True, linecolor=GRID_COLOR, linewidth=3, ticks="outside", ticklen=13,
        tickwidth=3, tickcolor=GRID_COLOR, showticklabels=False, layer="below traces",
        automargin=False,
    ),
    yaxis=dict(
        range=Y_RANGE, tickvals=Y_TICKS, ticktext=Y_TICK_LABELS, showgrid=True,
        gridcolor=GRID_COLOR, gridwidth=3, zeroline=False, showline=False, ticks="",
        ticklabelstandoff=52, automargin=False,
        tickfont=dict(family=FONT, size=56, color=TEXT_COLOR),
    ),
    shapes=[dict(
        type="rect", xref="paper", yref="paper",
        x0=(2 - ML) / PW, x1=(W - 4 - ML) / PW,
        y0=-(H - 3 - (MT + PH)) / PH, y1=1 + (MT - 2) / PH,
        line=dict(color=GRID_COLOR, width=4), fillcolor="rgba(0,0,0,0)", layer="below",
    )],
    **legends,
)

fig.write_html("out.html")
